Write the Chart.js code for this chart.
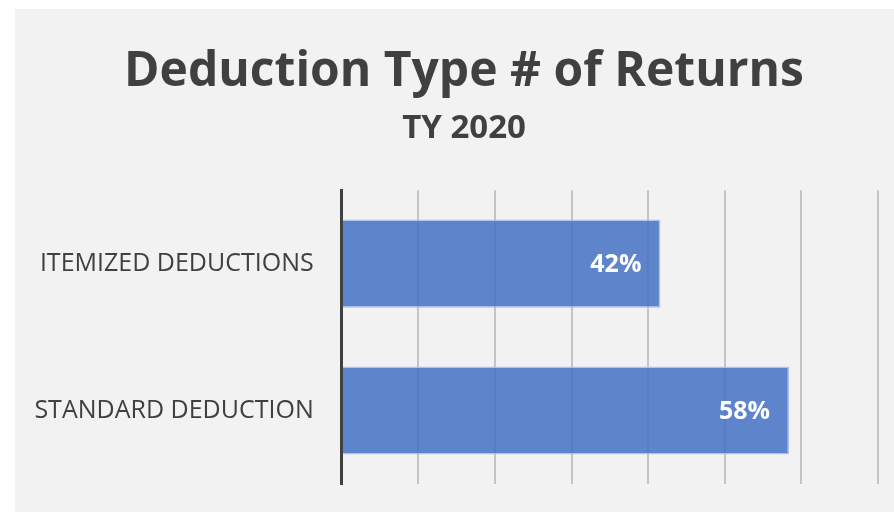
<!DOCTYPE html>
<html>
<head>
<meta charset="utf-8">
<script src="https://cdn.jsdelivr.net/npm/chart.js@4/dist/chart.umd.min.js"></script>
<style>
    body { margin: 0; background: #ffffff; }
    #wrap { position: absolute; left: 15px; top: 9px; width: 879px; height: 503px; background: #f2f2f2; }
</style>
</head>
<body>
<div id="wrap"><canvas id="deduction-chart"></canvas></div>
<script>
const categories = ['ITEMIZED DEDUCTIONS', 'STANDARD DEDUCTION'];
const shares = [41.6, 58.4];
const shareLabels = ['42%', '58%'];
const xTicks = [0, 10, 20, 30, 40, 50, 60, 70];

(function(){
    const barLabels = {
        id: 'barLabels',
        afterDatasetsDraw(chart) {
            const ctx = chart.ctx;
            const meta = chart.getDatasetMeta(0);
            ctx.save();
            ctx.font = 'bold 25px "Open Sans"';
            ctx.fillStyle = '#ffffff';
            ctx.textAlign = 'right';
            ctx.textBaseline = 'middle';
            meta.data.forEach((bar, i) => {
                ctx.fillText(shareLabels[i], bar.x - 19, bar.y + 1);
            });
            ctx.restore();
        }
    };

    new Chart(document.getElementById('deduction-chart'), {
        type: 'bar',
        data: {
            labels: categories,
            datasets: [{
                data: shares,
                backgroundColor: 'rgba(68, 114, 196, 0.85)',
                borderColor: 'rgba(165, 190, 232, 0.9)',
                borderWidth: 1.5,
                barPercentage: 0.6,
                categoryPercentage: 1
            }]
        },
        options: {
            indexAxis: 'y',
            responsive: true,
            maintainAspectRatio: false,
            animation: false,
            layout: {
                padding: { left: 35, right: 16, top: 0, bottom: 28 }
            },
            plugins: {
                legend: { display: false },
                tooltip: { enabled: false },
                title: {
                    display: true,
                    text: 'Deduction Type # of Returns',
                    color: '#404040',
                    font: { family: 'Open Sans', size: 48, weight: 'bold' },
                    padding: { top: 35, bottom: 0 }
                },
                subtitle: {
                    display: true,
                    text: 'TY 2020',
                    color: '#404040',
                    font: { family: 'Open Sans', size: 33, weight: 'bold' },
                    padding: { top: 7, bottom: 42 }
                }
            },
            scales: {
                x: {
                    min: 0,
                    max: 70,
                    afterBuildTicks(scale) {
                        scale.ticks = xTicks.map(v => ({ value: v }));
                    },
                    ticks: { display: false },
                    border: { display: false },
                    grid: { color: '#c4c4c4', lineWidth: 2, drawTicks: false }
                },
                y: {
                    afterFit(scale) {
                        scale.width = 291.7;
                        scale.paddingTop = 0;
                        scale.paddingBottom = 0;
                        // labels run a little left of the padded box, don't clip them
                        scale._computeLabelArea = () => undefined;
                    },
                    ticks: {
                        color: '#404040',
                        font: { family: 'Open Sans', size: 25 },
                        padding: 28
                    },
                    border: { color: '#404040', width: 3 },
                    grid: { display: false, drawTicks: false }
                }
            }
        },
        plugins: [barLabels]
    });
})();
</script>
</body>
</html>
